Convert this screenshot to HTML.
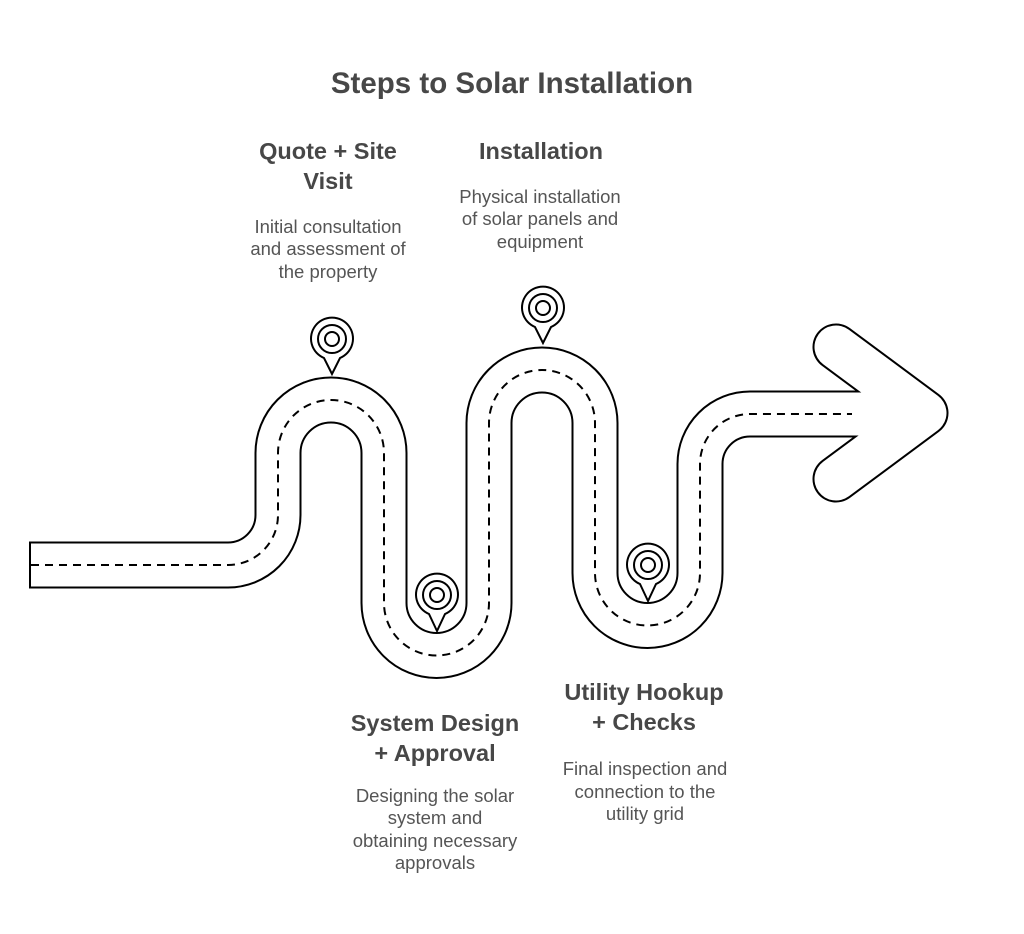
<!DOCTYPE html>
<html><head><meta charset="utf-8"><style>
html,body{margin:0;padding:0;background:#fff;}
svg{display:block;}
.t{font-family:"Liberation Sans",sans-serif;font-weight:bold;fill:#474747;text-anchor:middle;}
.b{font-family:"Liberation Sans",sans-serif;fill:#555;text-anchor:middle;font-size:18.5px;}
</style></head><body>
<svg width="1024" height="934" viewBox="0 0 1024 934" xmlns="http://www.w3.org/2000/svg">
<rect width="1024" height="934" fill="#fff"/>
<text class="t" x="512" y="93" font-size="29.5">Steps to Solar Installation</text>

<text class="t" x="328" y="159" font-size="23.5">Quote + Site</text>
<text class="t" x="328" y="189" font-size="23.5">Visit</text>
<text class="b" x="328" y="233">Initial consultation</text>
<text class="b" x="328" y="255">and assessment of</text>
<text class="b" x="328" y="278">the property</text>

<text class="t" x="541" y="159" font-size="23.5">Installation</text>
<text class="b" x="540" y="203">Physical installation</text>
<text class="b" x="540" y="225">of solar panels and</text>
<text class="b" x="540" y="248">equipment</text>

<text class="t" x="435" y="731" font-size="23.5">System Design</text>
<text class="t" x="435" y="761" font-size="23.5">+ Approval</text>
<text class="b" x="435" y="802">Designing the solar</text>
<text class="b" x="435" y="824">system and</text>
<text class="b" x="435" y="847">obtaining necessary</text>
<text class="b" x="435" y="869">approvals</text>

<text class="t" x="644" y="700" font-size="23.5">Utility Hookup</text>
<text class="t" x="644" y="730" font-size="23.5">+ Checks</text>
<text class="b" x="645" y="775">Final inspection and</text>
<text class="b" x="645" y="798">connection to the</text>
<text class="b" x="645" y="820">utility grid</text>

<g fill="none" stroke-linejoin="round">
  <path d="M29 565 H228 A50 50 0 0 0 278 515 V453 A53 53 0 0 1 384 453 V603 A52.5 52.5 0 0 0 489 603 V423 A53 53 0 0 1 595 423 V573 A52.5 52.5 0 0 0 700 573 V464 A50 50 0 0 1 750 414 H885" stroke="#000" stroke-width="47"/>
  <path d="M836 347 L925 413 L836 479" stroke="#000" stroke-width="47" stroke-linecap="round"/>
  <path d="M31 565 H228 A50 50 0 0 0 278 515 V453 A53 53 0 0 1 384 453 V603 A52.5 52.5 0 0 0 489 603 V423 A53 53 0 0 1 595 423 V573 A52.5 52.5 0 0 0 700 573 V464 A50 50 0 0 1 750 414 H885" stroke="#fff" stroke-width="43"/>
  <path d="M836 347 L925 413 L836 479" stroke="#fff" stroke-width="43" stroke-linecap="round"/>
  <path d="M840 414 H890" stroke="#fff" stroke-width="43"/>
  <path d="M31 565 H228 A50 50 0 0 0 278 515 V453 A53 53 0 0 1 384 453 V603 A52.5 52.5 0 0 0 489 603 V423 A53 53 0 0 1 595 423 V573 A52.5 52.5 0 0 0 700 573 V464 A50 50 0 0 1 750 414 H852" stroke="#000" stroke-width="2" stroke-dasharray="8 6"/>
</g>

<g fill="#fff" stroke="#000" stroke-width="2">
  <g transform="translate(332,339)">
    <path d="M0 35 L-8 19 A21 21 0 1 1 8 19 Z"/>
    <circle r="14"/><circle r="7"/>
  </g>
  <g transform="translate(437,595)">
    <path d="M0 36 L-8 19 A21 21 0 1 1 8 19 Z"/>
    <circle r="14"/><circle r="7"/>
  </g>
  <g transform="translate(543,308)">
    <path d="M0 35 L-8 19 A21 21 0 1 1 8 19 Z"/>
    <circle r="14"/><circle r="7"/>
  </g>
  <g transform="translate(648,565)">
    <path d="M0 36 L-8 19 A21 21 0 1 1 8 19 Z"/>
    <circle r="14"/><circle r="7"/>
  </g>
</g>
</svg>
</body></html>
